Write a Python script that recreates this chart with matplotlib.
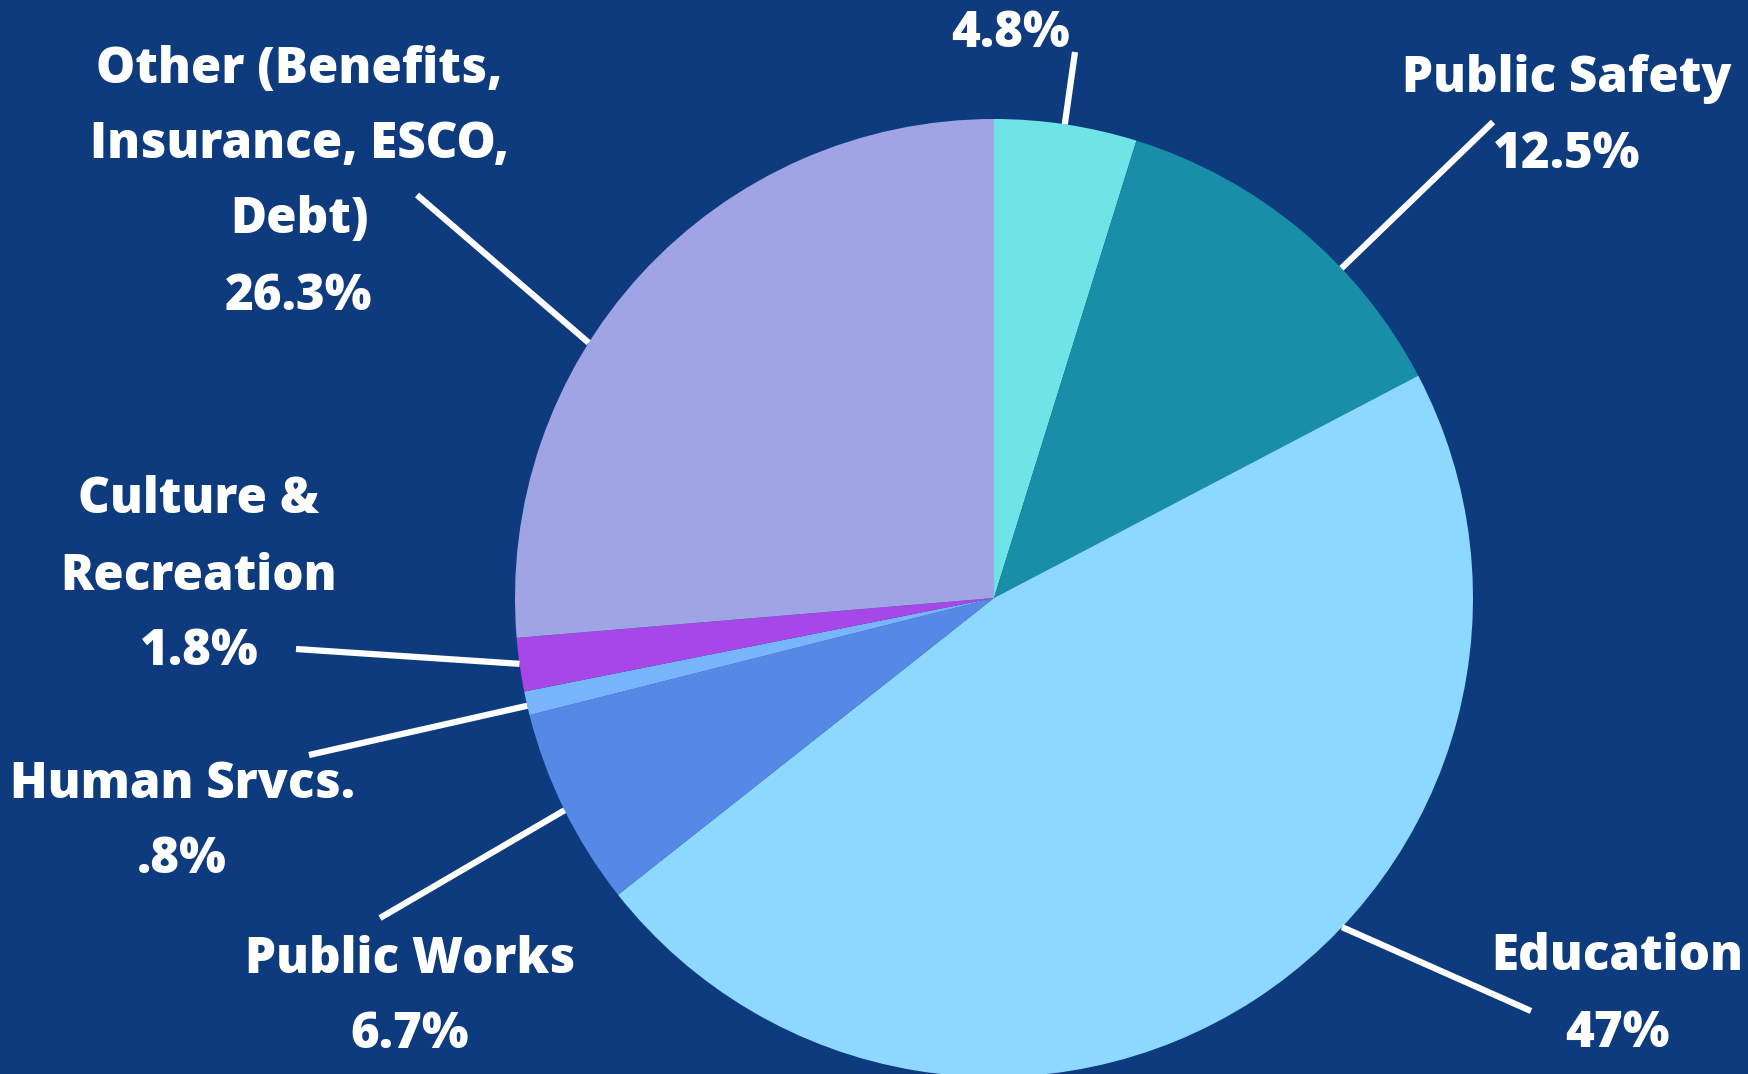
import numpy as np
import matplotlib
matplotlib.use("Agg")
import matplotlib.pyplot as plt

# 预算支出构成
categories = ["General Government", "Public Safety", "Education", "Public Works",
              "Human Srvcs.", "Culture & Recreation",
              "Other (Benefits, Insurance, ESCO, Debt)"]
shares = [4.8, 12.5, 47.0, 6.7, 0.8, 1.8, 26.3]
share_labels = ["4.8%", "12.5%", "47%", "6.7%", ".8%", "1.8%", "26.3%"]
name_lines = [
    [],
    ["Public Safety"],
    ["Education"],
    ["Public Works"],
    ["Human Srvcs."],
    ["Culture &", "Recreation"],
    ["Other (Benefits,", "Insurance, ESCO,", "Debt)"],
]

colors = ["#6EE4E7", "#188EA9", "#8DD8FE", "#5689E5", "#79B5FB", "#A847E8", "#A0A4E4"]
bg = "#0E3A7E"

W, H = 1748, 1074
cx, cy, R = 994, 598, 479  # 饼图中心与半径（像素，y向下）

# 引线：饼图边缘上的角度 + 外端点；标签：中心x + 各行基线y
leader_angle = [81.5, 43.5, -43.4, -153.7, -167.0, -172.1, 147.8]
leader_end = [(1075, 52), (1493, 122), (1531, 1011), (380, 918),
              (309, 755), (296, 649), (417, 195)]
label_x = [1011, 1567, 1617, 410, 182, 199, 299]
label_base = [
    [47],
    [92, 168],
    [970, 1047],
    [973, 1048],
    [798, 873],
    [513, 590, 665],
    [83, 158, 233, 310],
]

plt.rcParams["font.family"] = ["Open Sans", "DejaVu Sans"]

fig = plt.figure(figsize=(W / 100, H / 100), dpi=100, facecolor=bg)
ax = fig.add_axes([0, 0, 1, 1])
ax.set_facecolor(bg)

ax.pie(shares, colors=colors, startangle=90, counterclock=False,
       radius=R, center=(cx, H - cy), wedgeprops=dict(linewidth=0))

ax.set_xlim(0, W)
ax.set_ylim(0, H)
ax.set_aspect("auto")
ax.axis("off")

for i in range(len(shares)):
    a = np.deg2rad(leader_angle[i])
    x0 = cx + R * np.cos(a)
    y0 = (H - cy) + R * np.sin(a)
    x1, y1 = leader_end[i]
    ax.plot([x0, x1], [y0, H - y1], color="white", lw=4.5, solid_capstyle="butt")

    lines = name_lines[i] + [share_labels[i]]
    for txt, yb in zip(lines, label_base[i]):
        ax.text(label_x[i], H - yb, txt, color="white", fontsize=35.5,
                fontweight="heavy", ha="center", va="baseline")

fig.savefig("out.png", dpi=100, facecolor=bg)
